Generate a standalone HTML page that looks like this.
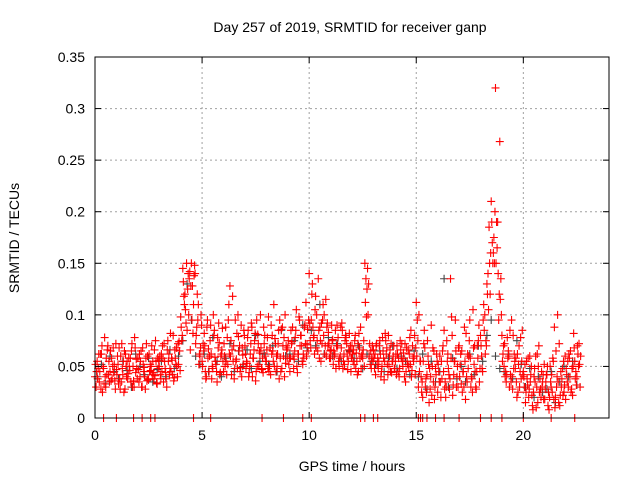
<!DOCTYPE html>
<html><head><meta charset="utf-8"><style>
body{margin:0;background:#fff;}
svg{display:block;font-family:"Liberation Sans",sans-serif;}
</style></head><body>
<svg id="c" width="640" height="480">
<text x="350" y="32" font-size="14" text-anchor="middle">Day 257 of 2019, SRMTID for receiver ganp</text>
<text x="352" y="471" font-size="14" text-anchor="middle">GPS time / hours</text>
<text transform="translate(19,238) rotate(-90)" font-size="14" text-anchor="middle">SRMTID / TECUs</text>
<g id="grid"></g><g id="gray"></g><g id="red"></g><g id="axes"></g>
</svg>
<script>
const xTicks=[0,5,10,15,20];
const yTicks=[0,0.05,0.1,0.15,0.2,0.25,0.3,0.35];
const yTickLabels=["0","0.05","0.1","0.15","0.2","0.25","0.3","0.35"];
const redStartHour=0, redStepHours=0.1, grayStepHours=0.2;
const redA=[40,55,35,62,48,30,70,45,38,52,47,33,60,42,28,55,50,65,36,44,58,40,30,49,72,37,46,55,41,33,50,62,35,44,75,48,56,39,68,52,98,145,120,85,135,150,110,72,95,60,55,82,40,67,90,48,59,35,73,62,45,88,52,128,66,38,57,79,49,61,70,53,44,92,58,36,81,63,47,72,55,98,42,65,77,50,38,86,60,53,68,45,74,57,105,62,80,52,90,71,140,95,78,118,65,88,72,100,60,83,58,76,62,90,50,68,55,80,47,64,70,52,63,45,88,58,150,125,60,48,66,42,58,75,50,37,62,80,45,55,48,70,40,58,63,35,52,78,46,60,112,30,55,20,68,42,15,90,35,48,25,60,38,85,30,48,135,22,55,40,70,33,45,18,62,95,38,52,28,75,80,45,100,130,185,210,160,320,190,268,80,50,35,65,42,28,55,20,70,38,45,15,32,60,22,40,10,50,28,35,18,42,8,30,55,20,100,12,38,25,48,30,65,22,55,40,72];
const redB=[30,48,62,25,78,42,55,36,68,28,60,38,72,25,50,43,58,30,78,48,35,65,52,28,60,45,70,38,55,48,42,70,55,30,62,45,80,58,40,65,75,118,92,140,66,128,148,88,52,100,72,45,95,60,38,80,52,68,44,87,60,42,110,75,55,95,48,70,40,85,48,85,62,40,75,95,52,68,44,60,78,50,62,110,45,72,58,88,40,66,52,85,60,78,44,95,70,58,112,65,75,130,62,100,85,55,110,70,92,58,90,65,48,78,60,85,52,72,66,45,55,80,42,68,60,75,135,100,52,70,48,72,55,40,65,82,52,60,44,70,62,45,75,55,40,68,50,85,58,42,95,45,25,72,38,60,28,50,18,62,45,20,70,35,55,28,98,42,65,30,52,25,88,40,60,30,105,45,70,35,60,110,75,140,120,170,150,190,95,135,62,40,78,30,95,48,58,25,45,85,30,55,20,42,8,35,62,25,45,18,35,12,50,25,88,30,15,45,22,60,35,58,28,82,45,62,30];
const redC=[52,38,45,70,33,58,42,65,50,36,42,68,35,55,62,38,46,72,30,57,47,55,68,40,36,62,50,44,75,58,60,45,72,38,55,82,42,66,50,74,88,132,105,125,142,95,138,80,110,68,50,70,88,45,62,100,55,78,42,66,72,55,95,60,118,48,82,65,90,52,62,78,50,88,66,45,72,100,58,80,66,45,90,55,72,62,95,48,78,70,75,58,88,65,50,98,80,62,72,86,92,120,80,68,135,75,95,62,88,72,66,52,85,70,58,92,62,78,55,70,62,75,55,82,48,66,112,145,72,58,58,70,48,62,78,55,68,50,72,60,55,62,48,72,58,45,66,52,70,80,60,100,40,55,30,75,48,22,65,42,52,35,65,28,75,42,58,32,95,50,40,65,30,82,48,58,25,70,45,90,70,95,62,120,150,190,175,150,140,115,55,72,42,60,35,80,48,62,30,55,40,25,58,35,12,48,30,70,20,42,28,50,20,42,18,65,35,22,48,32,42,62,25,50,38,70,52];
const redD=[45,62,28,50,40,66,35,58,44,72,52,28,48,65,40,58,35,50,68,38,62,30,45,58,38,52,42,66,34,56,38,58,48,66,42,58,36,52,72,46,80,110,150,100,128,82,140,120,62,90,65,38,58,75,50,85,45,92,60,55,50,78,62,42,70,55,100,45,68,80,55,40,72,58,82,50,65,48,88,55,48,68,80,50,60,85,45,70,100,58,58,72,48,85,62,70,55,88,60,95,68,88,105,75,58,92,80,115,70,65,75,60,70,55,88,48,75,60,82,58,66,48,72,58,62,50,98,130,65,55,62,52,70,45,58,75,42,66,55,48,42,58,66,50,72,55,62,40,55,68,75,55,35,85,25,52,40,68,30,55,35,55,45,20,62,38,80,55,30,68,62,45,55,35,75,40,68,30,58,48,48,85,70,105,160,150,200,165,120,100,70,45,58,85,40,62,35,52,78,42,52,38,28,50,25,60,15,38,30,52,42,25,35,58,10,40,72,30,55,18,55,40,48,68,32,50,60];
const grayVals=[40,52,33,60,45,38,55,46,30,62,50,42,58,35,47,55,40,66,48,60,75,130,95,60,52,62,45,78,55,40,58,72,45,65,50,66,48,80,55,62,52,70,45,85,60,62,75,55,90,68,85,70,110,62,78,60,72,55,80,65,58,70,48,62,55,52,65,45,58,70,48,60,55,42,65,40,62,28,55,35,45,135,30,58,38,50,35,62,42,70,55,80,95,60,48,45,62,38,75,52,30,48,20,40,25,28,45,15,35,50,40,55,32];
const zeroTimes=[0.4,1.0,1.8,2.2,2.6,2.8,4.6,5.4,7.8,8.8,9.7,10.1,12.4,12.6,13.0,13.2,15.1,15.2,15.3,15.5,15.9,16.3,17.0,18.0,18.5,19.0,20.0,21.3,22.4];
const L=95,R=609,T=57,B=418;
const X=h=>L+(R-L)*h/24, Y=v=>B-(B-T)*v/0.35;
const NS="http://www.w3.org/2000/svg";
function mk(tag,attrs,parent){const e=document.createElementNS(NS,tag);for(const k in attrs)e.setAttribute(k,attrs[k]);parent.appendChild(e);return e;}
const grid=document.getElementById('grid'),axes=document.getElementById('axes');
xTicks.forEach(t=>{
 if(t>0){const g=mk('line',{x1:X(t),x2:X(t),y1:T,y2:B,stroke:'#a0a0a0','stroke-dasharray':'2,3'},grid);
 
 }
 mk('line',{x1:X(t),x2:X(t),y1:B,y2:B-6,stroke:'#000'},axes);
 mk('line',{x1:X(t),x2:X(t),y1:T,y2:T+6,stroke:'#000'},axes);
 const tx=mk('text',{x:X(t),y:B+22,'font-size':14,'text-anchor':'middle'},axes);tx.textContent=t;
 
 
});
yTicks.forEach((t,i)=>{
 if(t>0&&t<0.35){const g=mk('line',{x1:L,x2:R,y1:Y(t),y2:Y(t),stroke:'#a0a0a0','stroke-dasharray':'2,3'},grid);
 
 }
 mk('line',{x1:L,x2:L+6,y1:Y(t),y2:Y(t),stroke:'#000'},axes);
 mk('line',{x1:R,x2:R-6,y1:Y(t),y2:Y(t),stroke:'#000'},axes);
 const tx=mk('text',{x:85,y:Y(t)+5,'font-size':14,'text-anchor':'end'},axes);tx.textContent=yTickLabels[i];
 
 
});
const frame=mk('rect',{x:L,y:T,width:R-L,height:B-T,fill:'none',stroke:'#000'},axes);


function plus(g,h,v,col,name){
 const x=X(h),y=Y(v),s=4;
 const p=mk('path',{d:`M${x-s},${y}H${x+s}M${x},${y-s}V${y+s}`,stroke:col,'stroke-width':1.1,fill:'none'},g);
 
 
}
const gg=document.getElementById('gray'),rg=document.getElementById('red');
grayVals.forEach((v,i)=>plus(gg,i*grayStepHours+0.1,v/1000,'#444','gray-point'));
redA.forEach((v,i)=>plus(rg,redStartHour+i*redStepHours,v/1000,'#f00','red-point'));
redB.forEach((v,i)=>plus(rg,redStartHour+i*redStepHours+0.05,v/1000,'#f00','red-point'));
redC.forEach((v,i)=>plus(rg,redStartHour+i*redStepHours+0.025,v/1000,'#f00','red-point'));
redD.forEach((v,i)=>plus(rg,redStartHour+i*redStepHours+0.075,v/1000,'#f00','red-point'));
zeroTimes.forEach(t=>plus(rg,t,0,'#f00','zero-point'));
</script>
</body></html>
